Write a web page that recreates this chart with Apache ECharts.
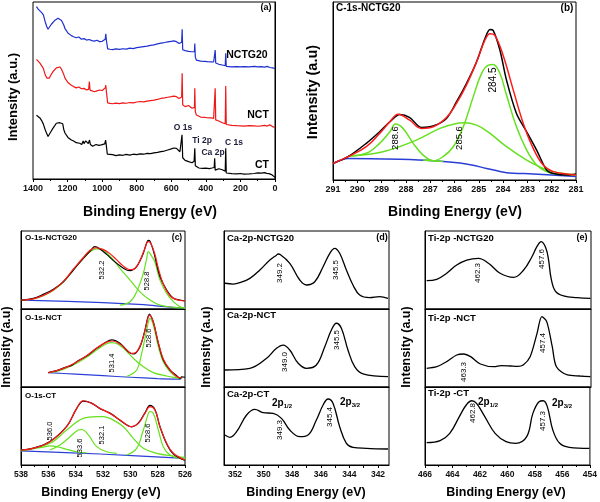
<!DOCTYPE html>
<html><head><meta charset="utf-8">
<script src="https://cdn.jsdelivr.net/npm/echarts@6/dist/echarts.min.js"></script>
<style>html,body{margin:0;padding:0;background:#fff}#c{width:600px;height:502px}</style>
</head><body><div id="c"></div>
<script>
// ---------- DATA (binding energy eV, relative intensity) ----------
const surveyCT = [[1380,36],[1370,35],[1360,34.5],[1350,33],[1340,31],[1330,28],[1320,25.5],[1313,24],[1305,25],[1295,27],[1285,28.6],[1275,30],[1265,31.5],[1255,30.5],[1245,31.8],[1235,30.8],[1228,31.2],[1222,28],[1215,26],[1207,25],[1198,23.5],[1188,22.5],[1178,22],[1165,21.5],[1150,20.5],[1140,21],[1130,20.2],[1118,19.5],[1110,21.5],[1105,20],[1095,21.5],[1088,20.5],[1080,20],[1073,22],[1068,19.5],[1055,18.5],[1045,18.8],[1035,19.5],[1020,19],[1005,19.3],[995,19],[985,19.8],[980,22],[976,19],[970,14],[960,13.5],[940,13.8],[920,13.2],[900,13.6],[880,13.4],[860,13.9],[840,13.5],[820,14],[800,13.8],[780,14.2],[760,14],[740,14.5],[720,14.3],[700,14.8],[680,15],[660,15.5],[640,15.8],[620,16.4],[600,17],[585,17.5],[570,17.3],[560,16.5],[550,15.4],[542,15.8],[538,25],[534,12],[528,11.5],[520,10.5],[510,10],[500,9.8],[490,9.5],[480,9.2],[475,9.4],[468,10],[464,17.3],[461,7.5],[455,7],[440,6.2],[420,6],[400,6.1],[380,5.9],[365,6.2],[352,6.5],[349,11.7],[346,5],[338,4.7],[325,5.8],[315,5.5],[305,5.2],[295,4.6],[288,4.4],[285,17.3],[282,3.4],[274,3.2],[250,3],[220,2.9],[200,3.1],[180,2.8],[150,2.9],[120,3.1],[100,3.5],[80,3.3],[60,3.6],[48,3.2],[35,3],[20,2.5],[10,1.5],[0,0.9]];
const surveyNCT = [[1380,67.6],[1370,66.5],[1360,65.5],[1350,64.5],[1340,62.5],[1330,59],[1320,57],[1313,55.9],[1305,57],[1295,59],[1285,60.6],[1275,61.5],[1265,62.8],[1255,62.5],[1245,63.3],[1235,62],[1228,62.5],[1222,59],[1215,57],[1207,55.9],[1198,54.5],[1188,53.5],[1178,53],[1165,52.2],[1150,51.5],[1135,52],[1120,51],[1105,51.2],[1090,50.3],[1078,50.8],[1074,55],[1070,50.2],[1060,49.8],[1045,49.3],[1030,49.8],[1015,50.3],[1000,50],[990,50.3],[982,51.5],[979,53],[975,49],[968,43],[955,42.7],[940,42.5],[920,42.9],[900,42.6],[880,43],[860,42.8],[840,43.2],[820,43],[800,43.5],[780,43.8],[760,43.6],[740,44],[720,44.3],[700,44.6],[680,45],[660,45.5],[640,45.8],[620,46.2],[600,46.5],[585,46.8],[570,46.5],[555,45.5],[545,45.8],[540,46.3],[537,59.7],[534,42],[528,41],[520,40.9],[510,40.5],[500,41.5],[495,42.5],[490,40.5],[480,40],[470,39.9],[466,40.5],[464,51.2],[461,38],[455,36.2],[445,35.5],[430,35],[410,34.8],[390,34.6],[370,34.5],[355,34.3],[348,34.5],[346,51.2],[343,33.4],[336,32.4],[325,32.8],[315,32.3],[305,31.8],[295,31.4],[288,31.2],[285,52.5],[282,30.8],[274,30.5],[250,30.3],[220,30.1],[200,30],[180,29.9],[150,30.1],[120,30],[100,29.8],[80,30],[60,30.3],[45,29.9],[30,30.6],[15,29.6],[0,29.2]];
const surveyNCTG20 = [[1380,97.4],[1370,96],[1360,95],[1350,94],[1340,92.7],[1330,89],[1320,86],[1313,84.6],[1305,85.5],[1295,87.3],[1285,88.3],[1275,89.5],[1265,90.5],[1255,90.8],[1245,91.2],[1235,89.5],[1228,90],[1222,87],[1215,85],[1207,83.8],[1198,82.5],[1188,81.5],[1178,81],[1165,80.4],[1150,79.8],[1135,80.2],[1120,79],[1105,79.3],[1090,78.5],[1075,78.8],[1060,78.2],[1045,77.9],[1030,78.4],[1015,77.6],[1000,77.8],[990,77.6],[982,79],[979,82],[975,78],[968,73.5],[955,73.3],[940,73.1],[920,73.5],[900,73.2],[880,73.6],[860,73.4],[840,73.9],[820,73.7],[800,74.2],[780,74.5],[760,74.8],[740,75.1],[720,75.5],[700,75.8],[680,76.3],[660,76.8],[640,77.1],[620,77.5],[600,77.8],[585,78],[570,77.6],[555,76.5],[545,77],[540,77.3],[537,84.6],[534,73],[528,72.8],[520,72.5],[510,72.3],[500,72.1],[490,72],[480,71.9],[470,71.6],[466,72],[464,76.6],[461,69],[455,67.2],[445,66.8],[430,66.6],[410,66.5],[390,66.3],[370,66.2],[355,66.1],[348,66.5],[346,72.9],[343,65.5],[336,65],[325,64.8],[315,64.7],[305,64.4],[295,64.2],[288,64],[285,71],[282,63.6],[274,63.5],[250,63.4],[220,63.5],[200,63.3],[180,63.5],[150,63.4],[120,63.6],[100,63.3],[80,63.5],[60,63.2],[45,63.6],[30,63],[15,62.8],[0,62.5]];

const c1sExp = [[291,9.3],[290.38,13.1],[289.63,20.6],[289.08,27.1],[288.66,32.7],[288.25,36.8],[287.84,35.1],[287.36,29.5],[286.88,30.3],[286.33,34.6],[285.92,43.9],[285.51,54.2],[285.09,66.4],[284.75,79.4],[284.54,84.5],[284.41,84.1],[284.13,72.9],[283.86,56.1],[283.45,37.4],[283.03,27.1],[282.62,16.8],[282.21,5.6],[281.93,3.7],[281.38,2.8],[281,3.4]];
const c1sFit = [[291,9.3],[290.38,13.1],[289.63,18.7],[289.08,26.2],[288.66,32.7],[288.32,37],[287.84,33.6],[287.36,29],[286.88,29.9],[286.33,35.1],[285.92,43],[285.51,53.3],[285.09,66.4],[284.75,78.5],[284.54,82.2],[284.34,81.3],[284.0,70.1],[283.58,50.5],[283.17,31.8],[282.76,17.8],[282.35,8.4],[281.93,4.7],[281.38,3.4],[281,2.8]];
const c1sPk2886 = [[290.31,13.5],[289.63,15],[289.08,20.6],[288.66,27.1],[288.43,31.4],[288.12,29],[287.7,20.6],[287.29,14],[286.88,10.8],[286.47,10.5]];
const c1sPk2856 = [[290.38,13.5],[288.94,15.9],[287.57,22.4],[286.6,29],[285.92,31.8],[285.64,32.1],[285.09,30.8],[284.54,26.2],[283.86,18.7],[283.03,11.2],[282.35,6.5],[281.93,4.7],[281,2.8]];
const c1sPk2845 = [[287.29,11.2],[286.88,10.8],[286.47,13.1],[286.05,18.7],[285.64,29.9],[285.23,46.7],[284.89,59.8],[284.61,64.5],[284.41,64.9],[284.13,59.8],[283.86,47.7],[283.45,29.9],[283.03,16.8],[282.62,8.4],[282.21,4.7],[281.93,3.7],[281,2.8]];
const c1sBg = [[291,9.3],[290.38,12.1],[288.25,11.6],[286.88,10.8],[285.51,9],[284.68,6.5],[283.86,4.1],[282.76,3.4],[281,1.9]];

const o1sG20Exp = [[537.95,11.5],[537.1,13.7],[536.37,18.8],[535.63,25.2],[534.9,35],[534.17,50],[533.44,65],[532.9,75],[532.6,79.9],[532.22,77],[531.73,70],[531.24,62],[530.76,55.5],[530.27,50],[530.02,49.1],[529.78,50.5],[529.54,54.2],[529.29,62],[529.05,71.4],[528.8,85],[528.68,88],[528.56,87],[528.32,75],[528.2,67],[527.83,41.4],[527.34,24.4],[526.85,13.7],[526.37,11.5],[526,10.6]];
const o1sG20Fit = [[537.95,11.5],[537.1,13],[536.37,17.5],[535.63,24.5],[534.9,35.5],[534.17,51],[533.44,66],[532.9,76],[532.5,78.5],[532.0,76.5],[531.49,71],[531.0,63],[530.51,55],[530.15,51],[529.9,50.5],[529.66,52],[529.41,58],[529.17,67],[528.93,78],[528.7,86.3],[528.5,84],[528.2,70],[527.95,52],[527.59,32],[527.1,17],[526.61,12],[526.2,10.6],[526,10.3]];
const o1sG20Pk5322 = [[537.95,11.5],[537.1,12.8],[536.37,17],[535.63,24],[534.9,34.5],[534.17,50],[533.44,65],[532.9,74],[532.46,77],[532.0,75],[531.49,68],[530.76,52],[530.02,37],[529.29,22],[528.56,11.5],[527.83,5],[526.85,2.2],[526,1.5]];
const o1sG20Pk5288 = [[530.76,5],[530.02,9.4],[529.54,22],[529.05,45.8],[528.8,65],[528.68,73.5],[528.45,68],[528.2,60],[527.83,37],[527.34,20],[526.85,9.4],[526.37,3],[526,1.5]];
const o1sG20Bg = [[537.95,11.5],[532,8.3],[529,5.5],[527.5,3],[526,1]];

const o1sNCTExp = [[536,18.4],[535.39,20.9],[535,23.5],[534.66,26],[534.3,27.5],[533.93,32.5],[533.2,39.7],[532.46,49.6],[531.73,58.1],[531.37,60.3],[530.76,56],[530.15,45.3],[529.78,42.3],[529.29,51.7],[528.93,73],[528.61,93.6],[528.32,83.8],[527.95,56],[527.59,34.6],[527.1,21.8],[526.61,14.5],[526.37,11],[526.24,13],[526,12.5]];
const o1sNCTFit = [[536,18.4],[535.39,21],[534.66,25.5],[533.93,32],[533.2,40],[532.46,50],[531.73,57.5],[531.3,59],[530.76,55],[530.27,47.5],[529.9,43],[529.54,45],[529.17,58],[528.93,72],[528.68,90],[528.56,92],[528.32,83],[527.95,57],[527.59,36],[527.1,22],[526.61,13.5],[526.24,11.5]];
const o1sNCTPk5314 = [[536,18.4],[535.39,20],[534.66,24.5],[533.93,30.5],[533.2,38],[532.46,47.5],[531.73,55.5],[531.37,57],[530.9,55],[530.4,48],[529.78,36.8],[529.05,26],[528.32,18.4],[527.34,14.1],[526.6,11.8],[526.2,10.8]];
const o1sNCTPk5286 = [[530.27,13.5],[529.54,21.8],[529.17,43.2],[528.8,73],[528.56,88],[528.32,79.5],[527.95,51.7],[527.59,32.4],[527.1,19.6],[526.61,13],[526.24,11]];
const o1sNCTBg = [[536,18.4],[534,16.5],[532,14.5],[530,12.5],[528,10.8],[526.3,10]];

const o1sCTExp = [[538,19.2],[537.1,21.6],[535.88,30.2],[534.66,49.5],[533.93,72.2],[533.44,82],[532.83,79.3],[532.22,72.2],[531.49,66.5],[530.76,57.4],[530.15,50.3],[529.9,49],[529.41,54],[528.93,67],[528.56,76.5],[528.2,71],[527.83,49],[527.34,27],[526.85,14],[526,6]];
const o1sCTFit = [[538,19.2],[537.1,21.4],[535.88,29.9],[534.66,49.1],[533.93,72.6],[533.44,82.4],[532.83,79],[532.22,72.6],[531.49,66.2],[530.76,57.7],[530.15,50],[529.9,49.1],[529.41,53.4],[528.93,66.2],[528.56,74.8],[528.2,70.5],[527.83,49.1],[527.34,27.8],[526.85,15],[526,6.4]];
const o1sCTPk5360 = [[538,19.2],[537.1,21],[536.37,23],[535.88,24.4],[535.39,23.5],[534.66,20.1],[533.93,17],[533.2,15.5]];
const o1sCTPk5336 = [[535.88,19.2],[535.15,25.6],[534.41,36.3],[533.8,44.9],[533.56,45.5],[533.07,38.5],[532.46,23.5],[531.73,17],[531,15]];
const o1sCTPk5321 = [[538,18],[535.88,27.8],[534.66,44.9],[533.44,59.8],[532.46,62],[532.0,62],[531.49,59.8],[530.51,49.1],[529.78,34.2],[529.05,21.4],[528.07,15],[526.85,11.5],[526,9.8]];
const o1sCTPk5286 = [[530.27,12.8],[529.54,21.4],[529.05,44.9],[528.68,66.2],[528.56,68.4],[528.32,66.2],[527.95,44.9],[527.59,23.5],[527.1,12.8],[526.37,8.6],[526,8.3]];
const o1sCTBg = [[538,18],[532.22,14.1],[526,8.6]];

const ca2pG20 = [[352.7,33],[352.12,32],[351.65,33.8],[350.96,39.3],[350.26,50],[349.56,62.8],[349.1,69],[348.98,70.5],[348.86,70],[348.17,58.6],[347.47,37.2],[347.0,30.8],[346.42,35],[345.84,54.2],[345.37,71.4],[345.03,77.8],[344.68,71.4],[344.21,50],[343.75,30.8],[343.28,17.9],[342.58,14.5],[341.89,15.8],[341.3,13.7]];
const ca2pNCT = [[352.7,21.8],[350.96,24],[349.79,36.8],[349.1,49.6],[348.63,53.8],[348.17,47.4],[347.58,30.4],[347.0,24],[346.31,28.2],[345.72,51.7],[345.26,73],[344.91,81.7],[344.56,75.2],[344.1,47.4],[343.63,26],[343.05,16.7],[341.3,13.2]];
const ca2pCT = [[352.7,38.5],[352.35,35.5],[351.89,42.7],[351.19,64.1],[350.61,71.4],[350.03,67.1],[349.33,66.2],[348.75,59.8],[348.17,44.9],[347.47,36.3],[346.89,38.5],[346.31,57.7],[345.84,76.9],[345.49,84.6],[345.14,79],[344.68,49.1],[344.21,27.8],[343.75,22.7],[342.82,21.4],[341.3,20.5]];

const ti2pG20 = [[465.88,36.3],[465.15,38],[464.43,45.8],[463.71,56.4],[462.98,62.8],[462.14,65],[461.41,58.6],[460.57,45.8],[459.6,40.6],[458.87,50],[458.27,67],[457.91,80],[457.6,86.3],[457.26,78],[457.06,62],[456.89,40],[456.58,23],[455.98,16.7],[455.01,14.5],[454.04,13.7]];
const ti2pNCT = [[465.88,24],[465.15,26],[464.43,32.5],[463.71,41],[463.2,42.3],[462.7,38.9],[462.0,29.5],[461.0,26],[460.5,27.5],[459.8,26.9],[459.3,26.5],[458.9,28.2],[458.4,38.9],[457.9,68.8],[457.55,90.1],[457.2,83.8],[456.8,51.7],[456.5,26],[455.7,15.4],[454.8,14.1],[454.04,13.2]];
const ti2pCT = [[465.88,28.6],[464.9,31.2],[464.2,40.6],[463.5,62],[463.0,76.9],[462.6,82.4],[462.25,79],[461.65,62],[460.9,40.6],[460.1,29.9],[459.4,27.8],[458.6,36.3],[458.15,66.2],[457.7,81.2],[457.4,82.4],[457.1,74.8],[456.7,44.9],[456.2,27.8],[455.5,22.7],[454.04,21.4]];

const caTicksMajor = [342,344,346,348,350,352];
const caTicksAll = [342,343,344,345,346,347,348,349,350,351,352];

// ---------- CHART ----------
const FONT = 'Liberation Sans, Arial, sans-serif';
const BLACK = '#000', RED = '#ff1a1a', GREEN = '#66e01f', BLUE = '#2b3fd6', SBLUE = '#1f2fd0';

const grids = [], xAxes = [], yAxes = [], series = [];
function addPanel(g, xa, showLabels, fs) {
  const gi = grids.length;
  grids.push(Object.assign({show: true, borderColor: '#000', borderWidth: 1, backgroundColor: 'transparent'}, g));
  const ax = {
    type: 'value', gridIndex: gi, inverse: true, min: xa.min, max: xa.max,
    axisLine: {show: true, onZero: false, lineStyle: {color: '#000', width: 1}},
    splitLine: {show: false},
    axisTick: {show: showLabels, inside: false, length: 3, lineStyle: {color: '#000'}},
    minorTick: {show: showLabels && !xa.customTicks, splitNumber: 2, length: 2, lineStyle: {color: '#000'}},
    axisLabel: {show: showLabels, color: '#111', fontFamily: FONT, fontWeight: 'bold', fontSize: fs || 9, margin: 5,
      showMinLabel: true, showMaxLabel: true, formatter: function (v) { return String(v); }}
  };
  if (xa.interval) ax.interval = xa.interval;
  if (xa.customLabels) {
    ax.axisLabel.customValues = xa.customLabels;
    ax.axisTick.customValues = xa.customTicks;
  }
  xAxes.push(ax);
  yAxes.push({type: 'value', gridIndex: gi, min: 0, max: 100, axisLine: {show: true, lineStyle: {color: '#000'}},
    axisTick: {show: false}, axisLabel: {show: false}, splitLine: {show: false}});
  return gi;
}
function line(gi, data, color, w, smooth, z) {
  series.push({type: 'line', xAxisIndex: gi, yAxisIndex: gi, data: data, showSymbol: false, symbol: 'none',
    smooth: smooth, lineStyle: {color: color, width: w}, z: z || 2, silent: true, animation: false});
}

// (a)
const gA = addPanel({left: 33, top: 2, width: 242, height: 177}, {min: 0, max: 1400, interval: 200}, true, 9);
line(gA, surveyCT, BLACK, 1.2, false);
line(gA, surveyNCT, '#f01818', 1.2, false);
line(gA, surveyNCTG20, SBLUE, 1.2, false);
// (b)
const gB = addPanel({left: 333, top: 2, width: 243, height: 178}, {min: 281, max: 291, interval: 1}, true, 9);
line(gB, c1sBg, BLUE, 1.5, 0.3);
line(gB, c1sPk2886, GREEN, 1.5, 0.4);
line(gB, c1sPk2856, GREEN, 1.5, 0.4);
line(gB, c1sPk2845, GREEN, 1.5, 0.4);
line(gB, c1sExp, BLACK, 1.5, 0.3, 3);
line(gB, c1sFit, RED, 1.5, 0.4, 4);
// (c)
const cx = {min: 526, max: 538, interval: 2};
const c1 = addPanel({left: 21, top: 231, width: 164, height: 78}, cx, false);
const c2 = addPanel({left: 21, top: 309, width: 164, height: 78}, cx, false);
const c3 = addPanel({left: 21, top: 387, width: 164, height: 78}, cx, true, 8.5);
line(c1, o1sG20Bg, BLUE, 1.2, 0.3);
line(c1, o1sG20Pk5322, GREEN, 1.2, 0.4);
line(c1, o1sG20Pk5288, GREEN, 1.2, 0.4);
line(c1, o1sG20Exp, BLACK, 1.2, 0.4, 3);
line(c1, o1sG20Fit, RED, 1.2, 0.4, 4);
line(c2, o1sNCTBg, BLUE, 1.2, 0.3);
line(c2, o1sNCTPk5314, GREEN, 1.2, 0.4);
line(c2, o1sNCTPk5286, GREEN, 1.2, 0.4);
line(c2, o1sNCTExp, BLACK, 1.2, 0.3, 3);
line(c2, o1sNCTFit, RED, 1.2, 0.4, 4);
line(c3, o1sCTBg, BLUE, 1.2, 0.3);
line(c3, o1sCTPk5360, GREEN, 1.2, 0.4);
line(c3, o1sCTPk5336, GREEN, 1.2, 0.4);
line(c3, o1sCTPk5321, GREEN, 1.2, 0.4);
line(c3, o1sCTPk5286, GREEN, 1.2, 0.4);
line(c3, o1sCTExp, BLACK, 1.2, 0.4, 3);
line(c3, o1sCTFit, RED, 1.2, 0.4, 4);
// (d)
const dx = {min: 341.23, max: 352.77, customLabels: caTicksMajor, customTicks: caTicksAll};
const d1 = addPanel({left: 224, top: 231, width: 165, height: 78}, dx, false);
const d2 = addPanel({left: 224, top: 309, width: 165, height: 78}, dx, false);
const d3 = addPanel({left: 224, top: 387, width: 165, height: 78}, dx, true, 8.5);
line(d1, ca2pG20, BLACK, 1.3, 0.4);
line(d2, ca2pNCT, BLACK, 1.3, 0.4);
line(d3, ca2pCT, BLACK, 1.3, 0.4);
// (e)
const ex = {min: 454, max: 466, interval: 2};
const e1 = addPanel({left: 425, top: 231, width: 166, height: 78}, ex, false);
const e2 = addPanel({left: 425, top: 309, width: 166, height: 78}, ex, false);
const e3 = addPanel({left: 425, top: 387, width: 166, height: 78}, ex, true, 8.5);
line(e1, ti2pG20, BLACK, 1.3, 0.4);
line(e2, ti2pNCT, BLACK, 1.3, 0.3);
line(e3, ti2pCT, BLACK, 1.3, 0.4);

// ---------- TEXT ----------
const graphic = [];
function txt(x, y, s, fs, opt) {
  opt = opt || {};
  graphic.push({type: 'text', x: x, y: y, rotation: opt.rot || 0, z: 100,
    style: {text: s, fill: opt.color || '#000', font: (opt.weight || 'bold') + ' ' + fs + 'px ' + FONT,
      textAlign: opt.align || 'center', textVerticalAlign: 'middle', rich: opt.rich}});
}
const R = Math.PI / 2;
// axis titles
txt(150, 212, 'Binding Energy (eV)', 14);
txt(455, 212, 'Binding Energy (eV)', 14);
txt(101, 493, 'Binding Energy (eV)', 12.5);
txt(306, 493, 'Binding Energy (eV)', 12.5);
txt(506, 493, 'Binding Energy (eV)', 12.5);
txt(13, 97, 'Intensity (a.u.)', 13, {rot: R});
txt(313, 92, 'Intensity (a.u)', 14.5, {rot: R});
txt(7, 347, 'Intensity (a.u)', 12.5, {rot: R});
txt(207, 347, 'Intensity (a.u)', 12.5, {rot: R});
txt(407, 347, 'Intensity (a.u)', 12.5, {rot: R});
// (a)
txt(266, 8, '(a)', 9);
txt(247, 55, 'NCTG20', 10.5);
txt(258, 115, 'NCT', 10.5);
txt(262, 165, 'CT', 10.5);
txt(183, 128, 'O 1s', 8.5, {color: '#1a1a3a'});
txt(202, 141, 'Ti 2p', 8.5, {color: '#1a1a3a'});
txt(213, 153, 'Ca 2p', 8.5, {color: '#1a1a3a'});
txt(234, 143, 'C 1s', 8.5, {color: '#1a1a3a'});
// (b)
txt(336, 8, 'C-1s-NCTG20', 10, {align: 'left'});
txt(567, 8, '(b)', 10);
txt(395, 138, '288.6', 9.5, {rot: R, weight: 'normal'});
txt(459, 138, '285.6', 9.5, {rot: R, weight: 'normal'});
txt(493, 80, '284.5', 10, {rot: R, weight: 'normal'});
// (c)
txt(25, 238, 'O-1s-NCTG20', 8, {align: 'left'});
txt(177, 238, '(c)', 8.5);
txt(25, 318, 'O-1s-NCT', 8, {align: 'left'});
txt(25, 396, 'O-1s-CT', 8, {align: 'left'});
txt(102, 270, '532.2', 7.5, {rot: R, weight: 'normal'});
txt(147, 281, '528.8', 7.5, {rot: R, weight: 'normal'});
txt(112, 363, '531.4', 7.5, {rot: R, weight: 'normal'});
txt(149, 338, '528.6', 7.5, {rot: R, weight: 'normal'});
txt(50, 431, '536.0', 7.5, {rot: R, weight: 'normal'});
txt(80, 448, '533.6', 7.5, {rot: R, weight: 'normal'});
txt(102, 435, '532.1', 7.5, {rot: R, weight: 'normal'});
txt(148, 433, '528.6', 7.5, {rot: R, weight: 'normal'});
// (d)
txt(227, 238, 'Ca-2p-NCTG20', 9.5, {align: 'left'});
txt(382, 238, '(d)', 9);
txt(227, 315, 'Ca-2p-NCT', 9.5, {align: 'left'});
txt(227, 394, 'Ca-2p-CT', 9.5, {align: 'left'});
txt(280, 273, '349.2', 8, {rot: R, weight: 'normal'});
txt(336, 270, '345.5', 8, {rot: R, weight: 'normal'});
txt(285, 362, '349.0', 8, {rot: R, weight: 'normal'});
txt(337, 340, '345.5', 8, {rot: R, weight: 'normal'});
txt(280, 430, '349.3', 8, {rot: R, weight: 'normal'});
txt(330, 417, '345.4', 8, {rot: R, weight: 'normal'});
const sub = {m: {fontSize: 10, fontWeight: 'bold', fontFamily: FONT}, s: {fontSize: 6, fontWeight: 'bold', fontFamily: FONT, padding: [6, 0, 0, 0]}};
txt(282, 403, '{m|2p}{s|1/2}', 10, {rich: sub});
txt(350, 402, '{m|2p}{s|3/2}', 10, {rich: sub});
// (e)
txt(428, 238, 'Ti-2p -NCTG20', 9.5, {align: 'left'});
txt(582, 238, '(e)', 9);
txt(428, 318, 'Ti-2p -NCT', 9.5, {align: 'left'});
txt(428, 393, 'Ti-2p -CT', 9.5, {align: 'left'});
txt(478, 273, '462.3', 8, {rot: R, weight: 'normal'});
txt(542, 259, '457.6', 8, {rot: R, weight: 'normal'});
txt(464, 372, '463.3', 8, {rot: R, weight: 'normal'});
txt(543, 343, '457.4', 8, {rot: R, weight: 'normal'});
txt(473, 413, '462.8', 8, {rot: R, weight: 'normal'});
txt(543, 421, '457.3', 8, {rot: R, weight: 'normal'});
txt(488, 402, '{m|2p}{s|1/2}', 10, {rich: sub});
txt(562, 403, '{m|2p}{s|3/2}', 10, {rich: sub});

const chart = echarts.init(document.getElementById('c'), null, {renderer: 'canvas'});
chart.setOption({animation: false, backgroundColor: '#fff', grid: grids, xAxis: xAxes, yAxis: yAxes, series: series, graphic: graphic});
</script></body></html>
